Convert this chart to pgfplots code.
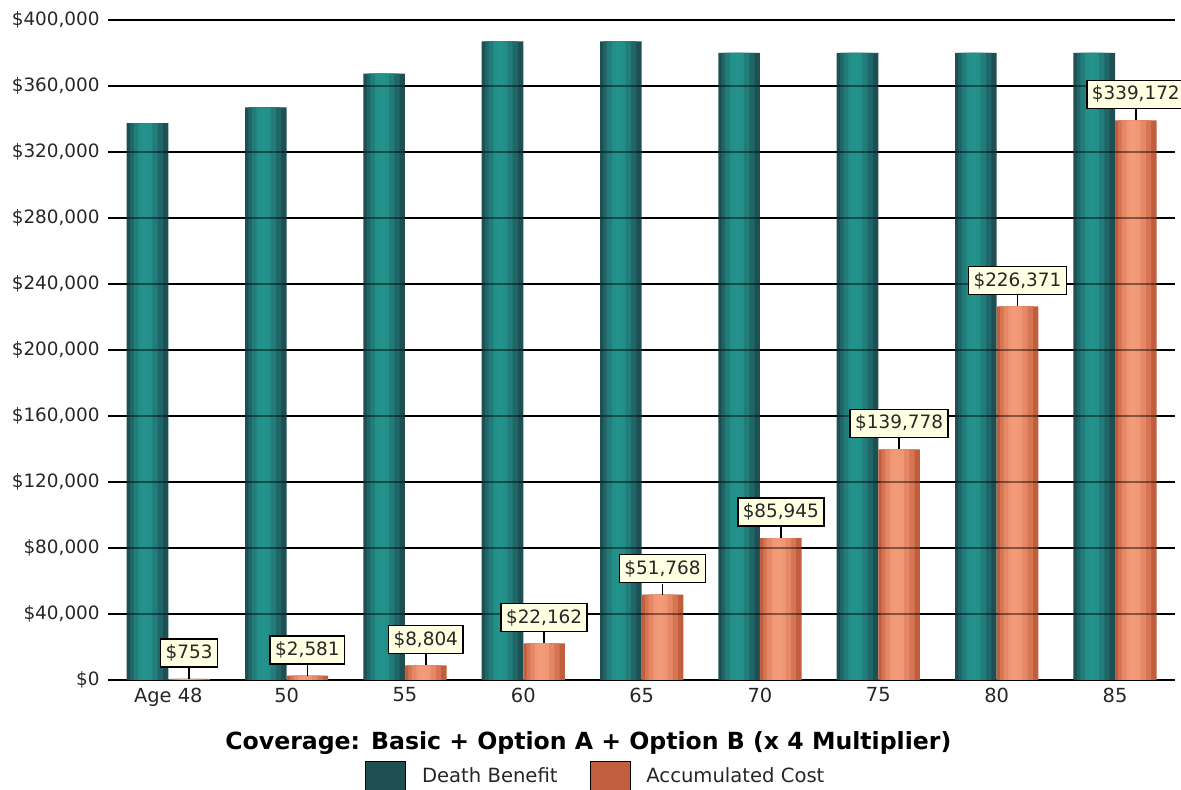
\documentclass[border=0pt]{standalone}
\usepackage{pgfplots}
\pgfplotsset{compat=1.18}
\usepackage{pgfplotstable}
\usepackage{fontspec}
\setmainfont{DejaVu Sans}
\definecolor{tealA}{HTML}{1E5053}
\definecolor{tealB}{HTML}{1F6668}
\definecolor{tealC}{HTML}{217C7A}
\definecolor{tealD}{HTML}{23928C}
\definecolor{orgA}{HTML}{C05E3E}
\definecolor{orgB}{HTML}{D67552}
\definecolor{orgC}{HTML}{E68865}
\definecolor{orgD}{HTML}{F39B79}
\definecolor{lblfill}{HTML}{FFFFE1}

\pgfplotstableread{
x db
0 337500
1 347000
2 367500
3 387000
4 387000
5 380000
6 380000
7 380000
8 380000
}\dbtable

\pgfplotstableread{
x ac
0 753
1 2581
2 8804
3 22162
4 51768
5 85945
6 139778
7 226371
8 339172
}\actable

% grid lines redrawn faintly over the bars
\pgfplotstableread{
x y
-0.507 40000
8.507 40000
nan nan
-0.507 80000
8.507 80000
nan nan
-0.507 120000
8.507 120000
nan nan
-0.507 160000
8.507 160000
nan nan
-0.507 200000
8.507 200000
nan nan
-0.507 240000
8.507 240000
nan nan
-0.507 280000
8.507 280000
nan nan
-0.507 320000
8.507 320000
nan nan
-0.507 360000
8.507 360000
}\gridtable

\begin{document}
\begin{tikzpicture}
\begin{axis}[
  scale only axis,
  width=533.35pt, height=330pt,
  xmin=-0.507, xmax=8.507,
  ymin=0, ymax=400000,
  ytick={0,40000,...,400000},
  xtick={0,...,8},
  xticklabels={Age 48,50,55,60,65,70,75,80,85},
  scaled y ticks=false,
  /pgf/number format/.cd, fixed, precision=0, 1000 sep={,}, assume math mode=true,
  /pgfplots/.cd,
  yticklabel={\$\pgfmathprintnumber{\tick}},
  ymajorgrids,
  major grid style={black, line width=0.9pt},
  major tick length=0pt,
  axis x line*=bottom,
  axis y line*=left,
  y axis line style={draw=none},
  x axis line style={black, line width=1.1pt},
  yticklabel style={font=\fontsize{9.2}{11}\selectfont, text=black!85, xshift=-0.8pt},
  xticklabel style={font=\fontsize{9.7}{11}\selectfont, text=black!85, yshift=-0.3pt},
  xlabel={\bfseries Coverage: Basic + Option A + Option B (x 4 Multiplier)},
  xlabel style={at={(rel axis cs:0.450,-0.0955)}, anchor=center, font=\fontsize{11.8}{14}\selectfont},
  legend columns=2,
  legend style={draw=none, fill=none, at={(rel axis cs:0.458,-0.147)}, anchor=center,
    font=\fontsize{9.8}{12}\selectfont, text=black!85,
    /tikz/every even column/.append style={column sep=14pt}},
  clip=false,
  unbounded coords=jump,
]
% Death Benefit (layered to imitate the cylinder shading)
\addplot[ybar, draw=none, forget plot, bar width=20.8pt, bar shift=-10.4pt, fill=tealA]
  table[x=x, y=db] {\dbtable};
\addplot[ybar, draw=none, forget plot, bar width=16.4pt, bar shift=-10.9pt, fill=tealB]
  table[x=x, y=db] {\dbtable};
\addplot[ybar, draw=none, forget plot, bar width=12.0pt, bar shift=-11.3pt, fill=tealC]
  table[x=x, y=db] {\dbtable};
\addplot[ybar, draw=none, forget plot, bar width=7.0pt, bar shift=-11.5pt, fill=tealD!85!tealC]
  table[x=x, y=db] {\dbtable};
\addplot[ybar, draw=none, forget plot, bar width=3.2pt, bar shift=-11.6pt, fill=tealD]
  table[x=x, y=db] {\dbtable};
% Accumulated Cost
\addplot[ybar, draw=none, forget plot, bar width=20.8pt, bar shift=10.4pt, fill=orgA]
  table[x=x, y=ac] {\actable};
\addplot[ybar, draw=none, forget plot, bar width=16.4pt, bar shift=9.9pt, fill=orgB]
  table[x=x, y=ac] {\actable};
\addplot[ybar, draw=none, forget plot, bar width=12.0pt, bar shift=9.5pt, fill=orgC]
  table[x=x, y=ac] {\actable};
\addplot[ybar, draw=none, forget plot, bar width=7.0pt, bar shift=9.3pt, fill=orgD!80!orgC]
  table[x=x, y=ac] {\actable};
\addplot[ybar, draw=none, forget plot, bar width=3.2pt, bar shift=9.2pt, fill=orgD]
  table[x=x, y=ac] {\actable};
% faint grid over the bars
\addplot[black, opacity=0.45, line width=0.9pt, mark=none, forget plot]
  table[x=x, y=y] {\gridtable};
% labels with connectors
\addplot[only marks, mark=none, forget plot,
  error bars/.cd, y dir=plus, y fixed=6700, error mark=none,
  error bar style={black, line width=0.8pt, xshift=10.4pt},
  /pgfplots/.cd,
  nodes near coords={\$\pgfmathprintnumber{\pgfplotspointmeta}},
  every node near coord/.append style={anchor=south, xshift=10.4pt, yshift=5.6pt, draw=black, line width=0.8pt,
    fill=lblfill, text=black!85, inner xsep=2.5pt, inner ysep=1pt, font=\fontsize{9.2}{11}\selectfont,
    minimum height=14pt}]
  table[x=x, y=ac] {\actable};
% legend entries
\addlegendimage{legend image code/.code={\fill[left color=tealA, middle color=tealD, right color=tealA] (0pt,-8pt) rectangle (20pt,8pt); \path (26pt,0pt);}}
\addlegendentry{Death Benefit}
\addlegendimage{legend image code/.code={\fill[left color=orgA, middle color=orgD, right color=orgA] (0pt,-8pt) rectangle (20pt,8pt); \path (26pt,0pt);}}
\addlegendentry{Accumulated Cost}
\end{axis}
\pgfresetboundingbox
\path[use as bounding box] (-54.15pt,-55pt) rectangle (536.35pt,340pt);
\end{tikzpicture}
\end{document}
